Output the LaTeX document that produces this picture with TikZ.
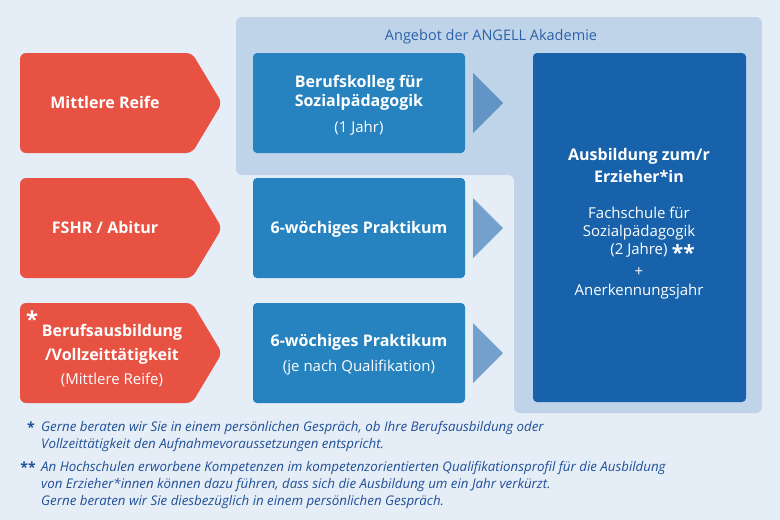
\documentclass[tikz,border=0pt]{standalone}
\usepackage{fontspec}
\setmainfont{Open Sans}
\usepackage{xcolor}
\usepackage{tikz}
\usetikzlibrary{calc}

\definecolor{hgblau}{HTML}{E5EDF7}
\definecolor{panelblau}{HTML}{BFD4E9}
\definecolor{rot}{HTML}{E85243}
\definecolor{mittelblau}{HTML}{2683C0}
\definecolor{dunkelblau}{HTML}{1762AA}
\definecolor{textblau}{HTML}{1F4F97}
\definecolor{angebotblau}{HTML}{2C62A8}

\newcommand{\titelfont}{\bfseries\fontsize{16}{19}\selectfont}
\newcommand{\kleinfont}{\fontsize{15}{18}\selectfont}

\tikzset{
    rotbox/.style={fill=rot, rounded corners=6pt},
    blaubox/.style={fill=mittelblau, rounded corners=4pt, minimum width=212pt, minimum height=100pt, inner sep=0pt},
    dunkelbox/.style={fill=dunkelblau, rounded corners=4pt, minimum width=213pt, minimum height=349pt, inner sep=0pt},
    pfeil/.style={fill=dunkelblau, fill opacity=0.55},
    titel/.style={text=white, font=\titelfont, inner sep=0pt, text height=0.75em, text depth=0.2em, yshift=-3pt},
    klein/.style={text=white, font=\kleinfont, inner sep=0pt, text height=0.75em, text depth=0.2em, yshift=-3pt},
    angebot/.style={text=angebotblau, font=\fontsize{14.5}{18}\selectfont, inner sep=0pt, yshift=-3pt},
    fussnote/.style={text=textblau, font=\itshape\fontsize{13.3}{17}\selectfont, align=left, inner sep=0pt},
    fussstern/.style={text=textblau, font=\bfseries\fontsize{14}{17}\selectfont, inner sep=0pt}
}

\begin{document}
\begin{tikzpicture}[x=1pt,y=-1pt]
    %HINTERGRUND
    \fill[hgblau] (0,0) rectangle (780,520);
    \useasboundingbox (0,0) rectangle (780,520);
    %PANEL ANGEBOT
    \fill[panelblau, rounded corners=6pt] (236,17) -- (762,17) -- (762,413) -- (514,413) -- (514,175) -- (236,175) -- cycle;
    \node[angebot] (angebot) at (491,34) {Angebot der ANGELL Akademie};
    %ROTE KAESTEN
    \foreach \y in {53,178,303}
        \fill[rotbox] (20,\y) -- (192,\y) -- (222,\y+50) -- (192,\y+100) -- (20,\y+100) -- cycle;
    \node[titel] (reife) at (105,103) {Mittlere Reife};
    \node[titel] (abitur) at (105,228) {FSHR / Abitur};
    \node[titel] (beruf) at (112,331) {Berufsausbildung};
    \node[titel] (vollzeit) at (112,355) {/Vollzeittätigkeit};
    \node[klein] (reifeC) at (112,379) {(Mittlere Reife)};
    \node[text=white, font=\bfseries\fontsize{22}{22}\selectfont, inner sep=0pt, anchor=base] (sternC) at (32,327) {*};
    %BLAUE KAESTEN
    \node[blaubox] (kolleg) at (359,103) {};
    \node[blaubox] (praktikumB) at (359,228) {};
    \node[blaubox] (praktikumC) at (359,353) {};
    \node[titel] (kollegA) at (359,82) {Berufskolleg für};
    \node[titel] (kollegB) at (359,101) {Sozialpädagogik};
    \node[klein] (kollegC) at (359,127) {(1 Jahr)};
    \node[titel] (praktB) at (359,228) {6-wöchiges Praktikum};
    \node[titel] (praktC) at (359,341) {6-wöchiges Praktikum};
    \node[klein] (qualiC) at (359,366) {(je nach Qualifikation)};
    %PFEILE
    \foreach \y in {103,228,353}
        \fill[pfeil] (473,\y-30) -- (503,\y) -- (473,\y+30) -- cycle;
    %AUSBILDUNG
    \node[dunkelbox] (ausbildung) at (639.5,227.5) {};
    \node[titel] (ausbA) at (639,155) {Ausbildung zum/r};
    \node[titel] (ausbB) at (639,177) {Erzieher*in};
    \node[klein] (fachA) at (639,213) {Fachschule für};
    \node[klein] (fachB) at (639,231) {Sozialpädagogik};
    \node[klein] (jahre) at (639,249) {(2 Jahre)};
    \node[text=white, font=\bfseries\fontsize{21}{21}\selectfont, inner sep=0pt, anchor=west] (sternD) at ($(jahre.east)+(4,1)$) {**};
    \node[klein] (plus) at (639,271) {+};
    \node[klein] (anerk) at (639,290) {Anerkennungsjahr};
    %FUSSNOTEN
    \node[fussstern, anchor=base] (fstern1) at (31,432) {*};
    \node[fussnote, anchor=north west] (fuss1) at (41,421.5) {Gerne beraten wir Sie in einem persönlichen Gespräch, ob Ihre Berufsausbildung oder\\Vollzeittätigkeit den Aufnahmevoraussetzungen entspricht.};
    \node[fussstern, anchor=base] (fstern2) at (28,472) {**};
    \node[fussnote, anchor=north west] (fuss2) at (41,461.5) {An Hochschulen erworbene Kompetenzen im kompetenzorientierten Qualifikationsprofil für die Ausbildung\\von Erzieher*innen können dazu führen, dass sich die Ausbildung um ein Jahr verkürzt.\\Gerne beraten wir Sie diesbezüglich in einem persönlichen Gespräch.};
\end{tikzpicture}
\end{document}
